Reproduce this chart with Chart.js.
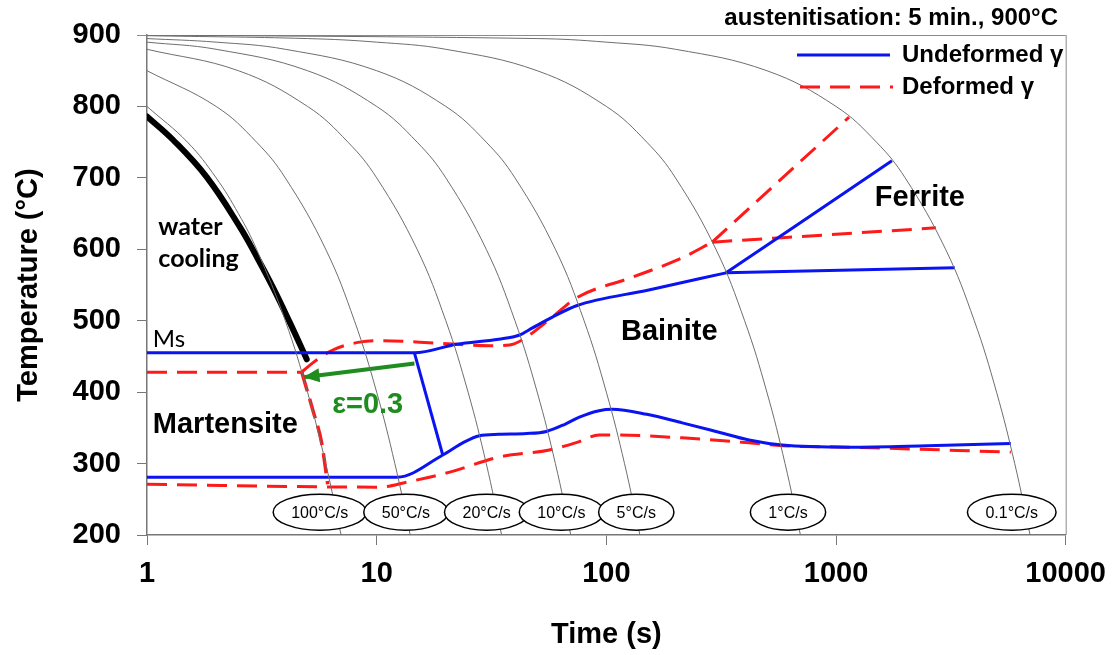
<!DOCTYPE html>
<html>
<head>
<meta charset="utf-8">
<script src="https://cdn.jsdelivr.net/npm/chart.js@4.4.1/dist/chart.umd.min.js"></script>
<style>
  body { margin: 0; background: #fff; }
  canvas { display: block; }
</style>
</head>
<body>
<canvas id="cct" width="1118" height="655"></canvas>
<script>
// axis ticks
const xTicks = [1, 10, 100, 1000, 10000];

// cooling curves [time s, temperature °C]
const cool100 = [[1, 800], [1.5, 750], [2, 700], [2.5, 650], [3, 600], [4, 500], [5, 400], [6, 300], [7, 200]];
const cool50 = [[1, 850], [2, 800], [3, 750], [4, 700], [6, 600], [8, 500], [10, 400], [12, 300], [14, 200]];
const cool20 = [[1, 880], [2.5, 850], [5, 800], [7.5, 750], [10, 700], [15, 600], [20, 500], [25, 400], [30, 300], [35, 200]];
const cool10 = [[1, 890], [2, 880], [5, 850], [10, 800], [15, 750], [20, 700], [30, 600], [40, 500], [50, 400], [60, 300], [70, 200]];
const cool5 = [[1, 895], [2, 890], [4, 880], [10, 850], [20, 800], [30, 750], [40, 700], [60, 600], [80, 500], [100, 400], [120, 300], [140, 200]];
const cool1 = [[1, 899], [5, 895], [10, 890], [20, 880], [50, 850], [100, 800], [150, 750], [200, 700], [300, 600], [400, 500], [500, 400], [600, 300], [700, 200]];
const cool01 = [[1, 900], [50, 895], [100, 890], [200, 880], [500, 850], [1000, 800], [1500, 750], [2000, 700], [3000, 600], [4000, 500], [5000, 400], [6000, 300], [7000, 200]];
const coolingCurves = [cool100, cool50, cool20, cool10, cool5, cool1, cool01];
const coolingRates = ['100°C/s', '50°C/s', '20°C/s', '10°C/s', '5°C/s', '1°C/s', '0.1°C/s'];

const waterCooling = [[1, 786], [1.3, 753], [1.82, 701], [2.54, 631], [3.01, 589], [3.53, 547], [4.18, 498], [4.96, 446]];

// undeformed austenite
const undefUpper = [[1, 455], [14.6, 455], [22.3, 467], [34, 474], [41.9, 480], [47.7, 490], [58.2, 505], [74.1, 521], [153, 543], [332, 567]];
const undefVertical = [[14.6, 455], [19.4, 312]];
const undefLower = [[1, 281], [12.3, 281], [19.4, 312], [24, 330], [28, 339], [34, 341], [45, 342], [54.8, 345], [66, 355], [76.3, 365], [93, 374], [106, 376], [150, 369], [214, 357], [300, 345], [418, 333], [582, 326], [1140, 323], [2500, 325], [5770, 328]];
const undefFerriteStart = [[332, 567], [1752, 724]];
const undefFerriteEnd = [[332, 567], [3290, 574]];

// deformed austenite
const defMs = [[1, 428], [4.72, 428]];
const defUpper = [[4.72, 428], [5.27, 441], [6.44, 459], [8.44, 470], [10.3, 472], [15.4, 470], [22.3, 467], [31, 465], [37.9, 466], [43, 473], [47.7, 483], [58.2, 505], [74.1, 532], [130, 561], [214, 588], [289, 610]];
const defVertical = [[4.72, 428], [5.27, 375], [5.76, 329], [6.12, 271]];
const defLower = [[1, 271], [10.3, 267], [13.5, 274], [20.8, 288], [34, 309], [56.5, 319], [75, 330], [93, 340], [110, 340], [214, 336], [418, 329], [582, 325], [1140, 323], [5770, 316]];
const defFerriteStart = [[289, 610], [1140, 785]];
const defFerriteEnd = [[289, 610], [2722, 630]];

// strain arrow, from undeformed to deformed Ms
const strainArrow = [[14.6, 440], [4.8, 421]];

const BLUE = '#0a14f0';
const RED = '#ff1a1a';
const GREEN = '#1e8c1e';
const GREY = '#6e6e6e';
const FONT = '"Liberation Sans", Arial, sans-serif';

Chart.defaults.font.family = FONT;
Chart.defaults.color = '#000';

const pts = arr => arr.map(p => ({ x: p[0], y: p[1] }));

const line = (arr, color, width, extra) => Object.assign({
  data: pts(arr),
  showLine: true,
  borderColor: color,
  borderWidth: width,
  pointRadius: 0,
  fill: false,
  cubicInterpolationMode: 'monotone'
}, extra || {});

const smooth = { cubicInterpolationMode: 'default', tension: 0.4 };

const datasets = [];
coolingCurves.forEach(c => datasets.push(line(c, GREY, 1, smooth)));
datasets.push(line(undefUpper, BLUE, 3));
datasets.push(line(undefVertical, BLUE, 3, { cubicInterpolationMode: 'default' }));
datasets.push(line(undefLower, BLUE, 3));
datasets.push(line(undefFerriteStart, BLUE, 3));
datasets.push(line(undefFerriteEnd, BLUE, 3));
datasets.push(line(defMs, RED, 3, { borderDash: [20, 10] }));
datasets.push(line(defUpper, RED, 3, { borderDash: [20, 10] }));
datasets.push(line(defVertical, RED, 3.5, { borderDash: [20, 8] }));
datasets.push(line(defLower, RED, 3, { borderDash: [20, 10] }));
datasets.push(line(defFerriteStart, RED, 3, { borderDash: [20, 10] }));
datasets.push(line(defFerriteEnd, RED, 3, { borderDash: [20, 10] }));
datasets.push(line(waterCooling, '#000', 6, Object.assign({ borderCapStyle: 'round' }, smooth)));
datasets.push(line(strainArrow, GREEN, 4));

// where the rate ellipses sit on the time axis
const rateLabelTime = [5.65, 13.4, 30.1, 63.7, 135, 618, 5823];

const annotate = {
  id: 'annotate',
  beforeDatasetsDraw(chart) {
    const { ctx, chartArea: a } = chart;
    ctx.save();
    ctx.strokeStyle = '#8a8a8a';
    ctx.lineWidth = 1;
    ctx.beginPath();
    ctx.moveTo(a.left - 10, a.top + 0.5);
    ctx.lineTo(a.right, a.top + 0.5);
    ctx.moveTo(a.right + 0.5, a.top);
    ctx.lineTo(a.right + 0.5, a.bottom);
    ctx.stroke();
    ctx.restore();
  },
  afterDatasetsDraw(chart) {
    const { ctx, scales: { x, y } } = chart;
    ctx.save();

    // rate ellipses
    ctx.font = '16px ' + FONT;
    ctx.textAlign = 'center';
    ctx.textBaseline = 'middle';
    rateLabelTime.forEach((t, i) => {
      const cx = x.getPixelForValue(t);
      const cy = y.getPixelForValue(232);
      const w = ctx.measureText(coolingRates[i]).width + 36;
      ctx.beginPath();
      ctx.ellipse(cx, cy, w / 2, 18, 0, 0, Math.PI * 2);
      ctx.fillStyle = '#fff';
      ctx.fill();
      ctx.lineWidth = 1.5;
      ctx.strokeStyle = '#000';
      ctx.stroke();
      ctx.fillStyle = '#000';
      ctx.fillText(coolingRates[i], cx, cy + 1);
    });

    // arrow head
    const x0 = x.getPixelForValue(strainArrow[0][0]), y0 = y.getPixelForValue(strainArrow[0][1]);
    const x1 = x.getPixelForValue(strainArrow[1][0]), y1 = y.getPixelForValue(strainArrow[1][1]);
    const ang = Math.atan2(y1 - y0, x1 - x0);
    ctx.fillStyle = GREEN;
    ctx.beginPath();
    ctx.moveTo(x1, y1);
    ctx.lineTo(x1 - 16 * Math.cos(ang) + 7 * Math.sin(ang), y1 - 16 * Math.sin(ang) - 7 * Math.cos(ang));
    ctx.lineTo(x1 - 16 * Math.cos(ang) - 7 * Math.sin(ang), y1 - 16 * Math.sin(ang) + 7 * Math.cos(ang));
    ctx.closePath();
    ctx.fill();

    // region labels
    ctx.textBaseline = 'middle';
    ctx.fillStyle = '#000';
    ctx.font = 'bold 29px ' + FONT;
    ctx.textAlign = 'left';
    ctx.fillText('Martensite', x.getPixelForValue(1.06), y.getPixelForValue(354));
    ctx.textAlign = 'center';
    ctx.fillText('Bainite', x.getPixelForValue(188), y.getPixelForValue(484));
    ctx.fillText('Ferrite', x.getPixelForValue(2318), y.getPixelForValue(672));

    ctx.fillStyle = GREEN;
    ctx.fillText('ε=0.3', x.getPixelForValue(9.14), y.getPixelForValue(382));

    ctx.fillStyle = '#000';
    ctx.textAlign = 'left';
    ctx.font = 'bold 25px Lato, ' + FONT;
    ctx.fillText('water', x.getPixelForValue(1.12), y.getPixelForValue(631));
    ctx.fillText('cooling', x.getPixelForValue(1.12), y.getPixelForValue(586));
    ctx.font = '24px Lato, ' + FONT;
    ctx.fillText('Ms', x.getPixelForValue(1.06), y.getPixelForValue(474));

    // header and legend
    ctx.font = 'bold 24px ' + FONT;
    ctx.textAlign = 'right';
    ctx.fillText('austenitisation: 5 min., 900°C', 1058, 18);
    ctx.textAlign = 'left';
    ctx.fillText('Undeformed γ', 902, 55);
    ctx.fillText('Deformed γ', 902, 87);

    ctx.lineWidth = 3;
    ctx.strokeStyle = BLUE;
    ctx.beginPath();
    ctx.moveTo(797, 55);
    ctx.lineTo(890, 55);
    ctx.stroke();
    ctx.strokeStyle = RED;
    ctx.setLineDash([20, 10]);
    ctx.beginPath();
    ctx.moveTo(800, 87);
    ctx.lineTo(893, 87);
    ctx.stroke();

    ctx.restore();
  }
};

new Chart(document.getElementById('cct'), {
  type: 'scatter',
  data: { datasets: datasets },
  options: {
    responsive: false,
    animation: false,
    layout: { padding: { top: 35, right: 50, left: 0, bottom: 0 } },
    plugins: {
      legend: { display: false },
      tooltip: { enabled: false }
    },
    scales: {
      x: {
        type: 'logarithmic',
        min: 1,
        max: 10000,
        afterBuildTicks: s => { s.ticks = xTicks.map(v => ({ value: v })); },
        afterFit: s => { s.height = 120; },
        ticks: {
          autoSkip: false,
          maxRotation: 0,
          padding: 12,
          font: { size: 29, weight: 'bold' },
          callback: v => String(v)
        },
        grid: { drawOnChartArea: false, drawTicks: true, tickLength: 10, color: '#777' },
        border: { color: '#777', width: 1.5 },
        title: {
          display: true,
          text: 'Time (s)',
          font: { size: 29, weight: 'bold' },
          padding: { top: 0, bottom: 3 }
        }
      },
      y: {
        min: 200,
        max: 900,
        afterFit: s => { s.width = 147; },
        ticks: {
          stepSize: 100,
          padding: 16,
          font: { size: 29, weight: 'bold' }
        },
        grid: { drawOnChartArea: false, drawTicks: true, tickLength: 10, color: '#777' },
        border: { color: '#777', width: 1.5 },
        title: {
          display: true,
          text: 'Temperature (°C)',
          font: { size: 29, weight: 'bold' },
          padding: { top: 12, bottom: 0 }
        }
      }
    }
  },
  plugins: [annotate]
});
</script>
</body>
</html>
